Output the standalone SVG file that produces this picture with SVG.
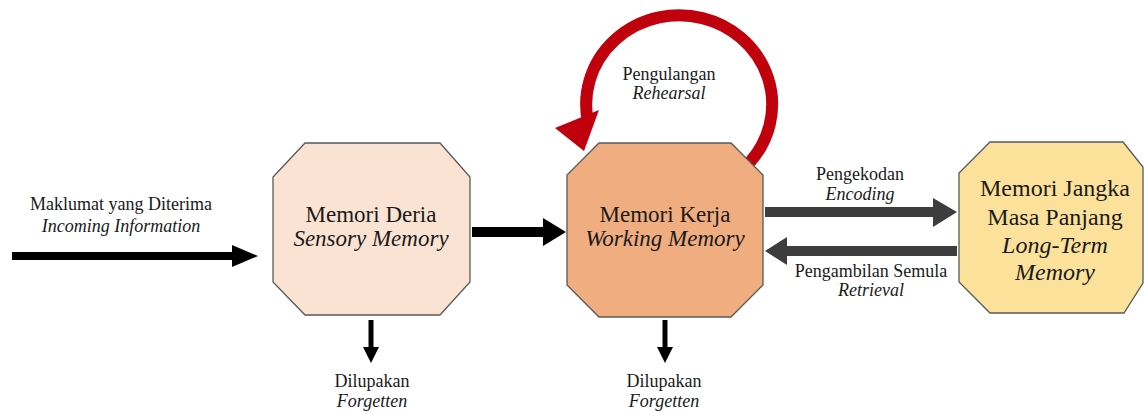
<svg xmlns="http://www.w3.org/2000/svg" width="1144" height="412" viewBox="0 0 1144 412">
<style>
.node{stroke:#595959;stroke-width:1.3}
.t{font-family:'Liberation Serif','DejaVu Serif',serif;fill:#1a1a1a;text-anchor:middle}
.nt{font-size:23px}
.lt{font-size:24px}
.sm{font-size:18px}
.it{font-style:italic}
.blk{fill:#000}
.gry{fill:#3d3d3d}
.red{fill:#c0000c}
</style>
<rect width="1144" height="412" fill="#fff"/>
<g id="connectors">
<path class="blk" d="M12,252 H232 V245 L258,256 L232,267 V260 H12 Z"/>
<path class="blk" d="M472,227 H543 V218 L566,232 L543,246 V237 H472 Z"/>
<path class="gry" d="M765,207 H933 V198 L957,212 L933,227 V217 H765 Z"/>
<path class="gry" d="M957,246 H787 V237 L765,251 L787,265 V256 H957 Z"/>
<path class="blk" d="M368.5,320 V347 H363 L371,363 L379,347 H373.5 V320 Z"/>
<path class="blk" d="M662.5,320 V347 H657 L665,363 L673,347 H667.5 V320 Z"/>
<path d="M750,162 A93,89 0 1 0 588,122" fill="none" stroke="#c0000c" stroke-width="12"/>
<polygon class="red" points="555,128 599,110 584,151"/>
</g>
<g id="label-incoming" font-family="Liberation Serif, serif">
<text class="t sm" x="121" y="210">Maklumat yang Diterima</text>
<text class="t sm it" x="121" y="232">Incoming Information</text>
</g>
<g id="label-rehearsal">
<text class="t sm" x="669" y="80">Pengulangan</text>
<text class="t sm it" x="669" y="99">Rehearsal</text>
</g>
<g id="label-encoding">
<text class="t sm" x="860" y="180">Pengekodan</text>
<text class="t sm it" x="860" y="200">Encoding</text>
</g>
<g id="label-retrieval">
<text class="t sm" x="871" y="277">Pengambilan Semula</text>
<text class="t sm it" x="871" y="296">Retrieval</text>
</g>
<g id="label-forgotten-1">
<text class="t sm" x="372" y="387">Dilupakan</text>
<text class="t sm it" x="372" y="407">Forgetten</text>
</g>
<g id="label-forgotten-2">
<text class="t sm" x="664" y="387">Dilupakan</text>
<text class="t sm it" x="664" y="407">Forgetten</text>
</g>
<g id="sensory-memory">
<polygon class="node" fill="#fbe3d3" points="305,143 440,143 470,177 470,282 440,315 305,315 273,282 273,177"/>
<text class="t nt" x="371" y="222">Memori Deria</text>
<text class="t nt it" x="371" y="246">Sensory Memory</text>
</g>
<g id="working-memory">
<polygon class="node" fill="#f0ad80" points="599,143 731,143 763,175 763,285 731,317 599,317 567,285 567,175"/>
<text class="t nt" x="665" y="222">Memori Kerja</text>
<text class="t nt it" x="665" y="246">Working Memory</text>
</g>
<g id="long-term-memory">
<polygon class="node" fill="#fce19b" points="990,142 1123,142 1143,167 1143,283 1124,313 990,313 959,282 959,173"/>
<text class="t lt" x="1055" y="196">Memori Jangka</text>
<text class="t lt" x="1055" y="225">Masa Panjang</text>
<text class="t lt it" x="1055" y="253">Long-Term</text>
<text class="t lt it" x="1055" y="280">Memory</text>
</g>
</svg>
